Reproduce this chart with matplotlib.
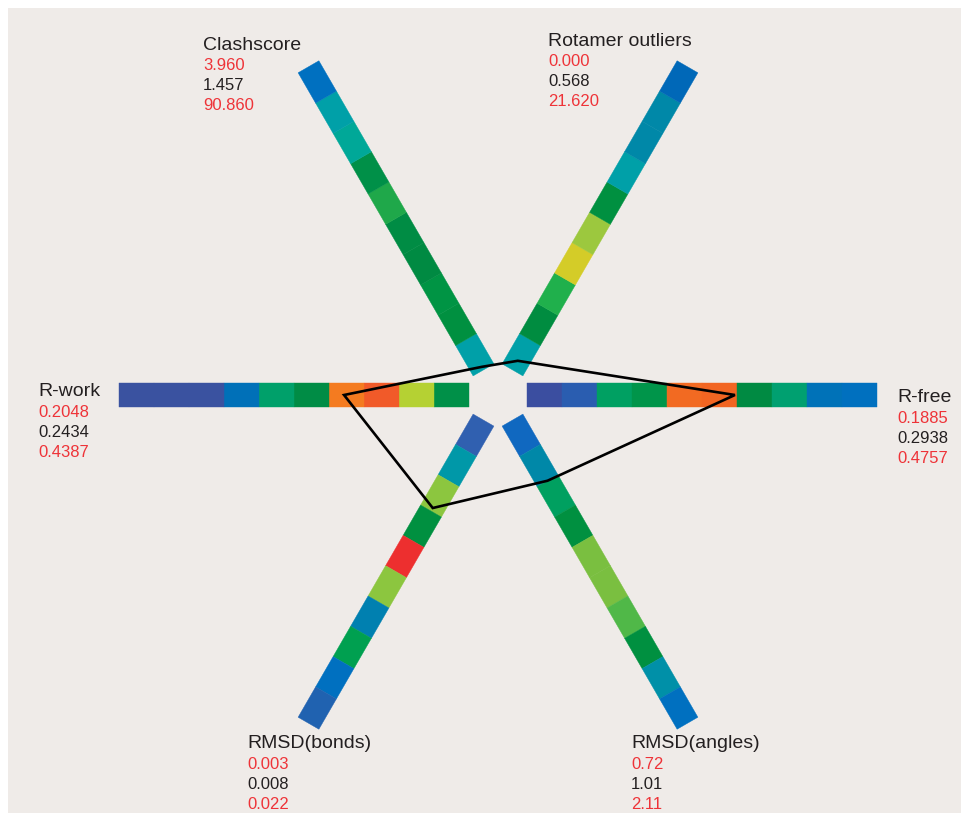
import numpy as np
import matplotlib
matplotlib.use("Agg")
import matplotlib.pyplot as plt
from matplotlib.patches import Polygon, Rectangle

# validation statistics: name, (min, mean, max)
names = ["Clashscore", "Rotamer outliers", "R-free", "RMSD(angles)", "RMSD(bonds)", "R-work"]
angles = [120, 60, 0, 300, 240, 180]
stat_min = ["3.960", "0.000", "0.1885", "0.72", "0.003", "0.2048"]
stat_mean = ["1.457", "0.568", "0.2938", "1.01", "0.008", "0.2434"]
stat_max = ["90.860", "21.620", "0.4757", "2.11", "0.022", "0.4387"]

# where the model sits on each bar (0 = inner end, 1 = outer end)
model_pos = [0.01, 0.03, 0.594, 0.20, 0.29, 0.357]

# histogram colours per bar, inner end to outer end
bins_clash = ['#00a0a8', '#009040', '#009444', '#008a42', '#008c44',
              '#1fa84a', '#009048', '#00a898', '#00a0a8', '#0070c0']
bins_rota = ['#00a0a8', '#008c40', '#20b04c', '#d4cc28', '#9cc83e',
             '#009040', '#00a0a8', '#0088a8', '#0088a8', '#0068b8']
bins_rfree = ['#3b4ea0', '#2a5db0', '#00a062', '#00954a', '#f26a22',
              '#f26522', '#008a42', '#00a070', '#0072b8', '#0070bf']
bins_angles = ['#1068c0', '#0088a8', '#00a060', '#009040', '#7abf40',
               '#7abf40', '#50b848', '#009040', '#0090a8', '#0070c0']
bins_bonds = ['#3060b0', '#0098a8', '#8cc63f', '#009040', '#ed2f2f',
              '#8cc63f', '#0080b0', '#00a050', '#0070c0', '#2062b0']
bins_rwork = ['#009048', '#b5d133', '#f15a29', '#f47b20', '#008c45',
              '#00a06a', '#0070b8', '#3a52a0', '#3a52a0', '#3a52a0']
bins = [bins_clash, bins_rota, bins_rfree, bins_angles, bins_bonds, bins_rwork]

# label anchor (left edge, title line) for each bar
label_xy = [(203, 45), (548, 41), (897, 397), (631, 743), (247, 743), (38, 391)]

W, H = 962, 813
cx, cy = 498, 395
r_in, r_out, half_w = 29, 379, 12
red = '#ee3338'
dark = '#231f20'

fig = plt.figure(figsize=(W / 100, H / 100), dpi=100)
fig.patch.set_facecolor('white')
ax = fig.add_axes([0, 0, 1, 1])
ax.set_xlim(0, W)
ax.set_ylim(H, 0)
ax.axis('off')
ax.add_patch(Rectangle((8, 8), W - 8, H - 8, facecolor='#efebe8', edgecolor='none', zorder=0))


def along(theta, r, offset=0.0):
    t = np.radians(theta)
    d = np.array([np.cos(t), -np.sin(t)])
    n = np.array([np.sin(t), np.cos(t)])
    return np.array([cx, cy]) + d * r + n * offset


for theta, cols in zip(angles, bins):
    edges = np.linspace(r_in, r_out, len(cols) + 1)
    for k, c in enumerate(cols):
        quad = [along(theta, edges[k], -half_w), along(theta, edges[k + 1], -half_w),
                along(theta, edges[k + 1], half_w), along(theta, edges[k], half_w)]
        ax.add_patch(Polygon(quad, closed=True, facecolor=c, edgecolor=c,
                             linewidth=0.3, zorder=1))

# model polygon
pts = [along(theta, r_in + p * (r_out - r_in)) for theta, p in zip(angles, model_pos)]
ax.add_patch(Polygon(pts, closed=True, fill=False, edgecolor='black',
                     linewidth=1.9, joinstyle='miter', zorder=3))

font = ['Liberation Sans', 'DejaVu Sans']
for (x, y), name, lo, mid, hi in zip(label_xy, names, stat_min, stat_mean, stat_max):
    ax.text(x, y, name, ha='left', va='center', fontsize=14, color=dark, family=font)
    ax.text(x, y + 21, lo, ha='left', va='center', fontsize=12, color=red, family=font)
    ax.text(x, y + 41, mid, ha='left', va='center', fontsize=12, color=dark, family=font)
    ax.text(x, y + 61, hi, ha='left', va='center', fontsize=12, color=red, family=font)

fig.savefig('out.png', dpi=100, facecolor=fig.get_facecolor())
